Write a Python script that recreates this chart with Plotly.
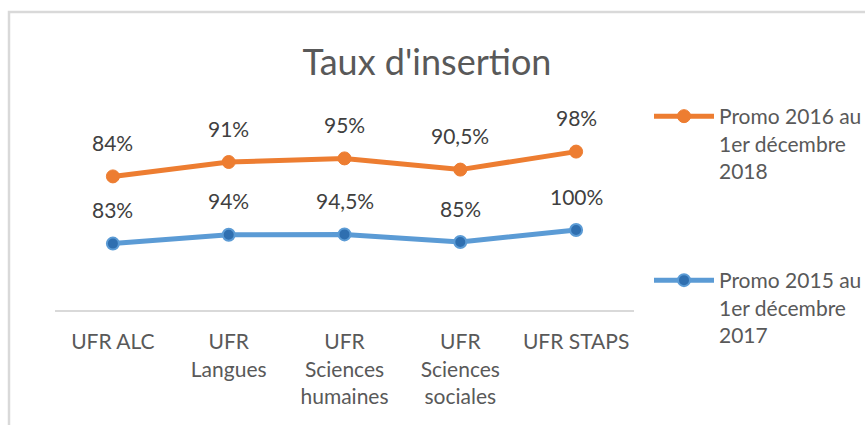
import plotly.graph_objects as go
import numpy as np

categories = ["UFR ALC", "UFR<br>Langues", "UFR<br>Sciences<br>humaines", "UFR<br>Sciences<br>sociales", "UFR STAPS"]
promo2015 = [83, 94, 94.5, 85, 100]
promo2016 = [84, 91, 95, 90.5, 98]
labels2015 = ["83%", "94%", "94,5%", "85%", "100%"]
labels2016 = ["84%", "91%", "95%", "90,5%", "98%"]
name2015 = "Promo 2015 au<br>1er décembre<br>2017"
name2016 = "Promo 2016 au<br>1er décembre<br>2018"

ORANGE = "#ED7D31"
BLUE = "#5B9BD5"
BLUE_DARK = "#2F6FB0"
FONT = "Lato"

W, H = 865, 425
ML, MR, MT, MB = 55, 231, 110, 115

fig = go.Figure()
fig.add_trace(go.Scatter(
    x=categories, y=promo2015, name=name2015, mode="lines+markers",
    stackgroup="one", fill="none",
    line=dict(color=BLUE, width=5),
    marker=dict(size=12, color=BLUE_DARK, line=dict(color=BLUE, width=2)),
    legend="legend2",
))
fig.add_trace(go.Scatter(
    x=categories, y=promo2016, name=name2016, mode="lines+markers",
    stackgroup="one", fill="none",
    line=dict(color=ORANGE, width=5),
    marker=dict(size=13, color=ORANGE, line=dict(color=ORANGE, width=1)),
    legend="legend",
))

stack_top = np.array(promo2015) + np.array(promo2016)
annotations = []
for c, v, t in zip(categories, promo2015, labels2015):
    annotations.append(dict(x=c, y=v, text=t, showarrow=False, yshift=34,
                            yanchor="middle", font=dict(family=FONT, size=21, color="#404040")))
for c, v, t in zip(categories, stack_top, labels2016):
    annotations.append(dict(x=c, y=float(v), text=t, showarrow=False, yshift=34,
                            yanchor="middle", font=dict(family=FONT, size=21, color="#404040")))

pw = W - ML - MR
ph = H - MT - MB
def px_x(p):
    return (p - ML) / pw
def px_y(p):
    return (H - MB - p) / ph

legend_common = dict(
    xanchor="left", yanchor="top", valign="top",
    font=dict(family=FONT, size=21, color="#595959"),
    bgcolor="rgba(0,0,0,0)", itemwidth=60, itemclick=False,
)

fig.update_layout(
    width=W, height=H,
    margin=dict(l=ML, r=MR, t=MT, b=MB, autoexpand=False),
    paper_bgcolor="white", plot_bgcolor="white",
    title=dict(text="Taux d'insertion", x=427 / W, xanchor="center",
               y=1 - 62 / H, yanchor="middle",
               font=dict(family=FONT, size=36, color="#595959")),
    xaxis=dict(showgrid=False, zeroline=False, showline=True, linecolor="#D9D9D9",
               linewidth=2, ticks="", ticklabelstandoff=12,
               tickfont=dict(family=FONT, size=21, color="#595959"),
               range=[-0.5, 4.5], fixedrange=True),
    yaxis=dict(range=[0, 250], visible=False, showgrid=False, zeroline=False),
    showlegend=True,
    legend=dict(x=px_x(649), y=px_y(96), **legend_common),
    legend2=dict(x=px_x(649), y=px_y(260), **legend_common),
    annotations=annotations,
    shapes=[dict(type="rect", xref="paper", yref="paper",
                 x0=px_x(9), x1=px_x(W + 40), y0=px_y(H + 40), y1=px_y(12),
                 line=dict(color="#D9D9D9", width=2.5), fillcolor="rgba(0,0,0,0)",
                 layer="below")],
)

fig.write_html("out.html",
               config={"displayModeBar": False},
               post_script="document.body.style.margin='0';document.body.style.overflow='hidden';")
